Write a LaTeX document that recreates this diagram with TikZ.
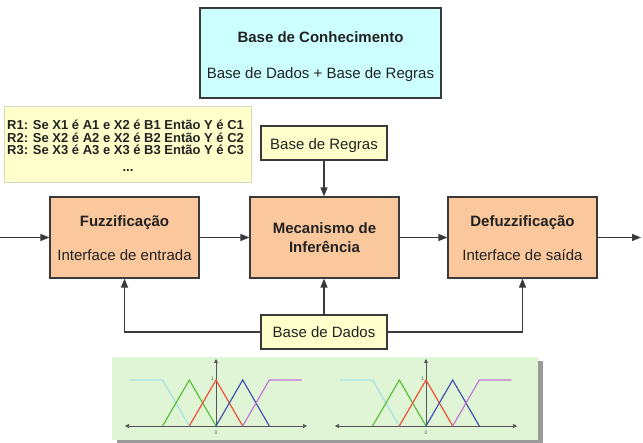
\documentclass[tikz,border=0pt]{standalone}
\usepackage{fontspec}
\setmainfont{Liberation Sans}
\usetikzlibrary{arrows.meta}
\definecolor{kbfill}{HTML}{CCFFFF}
\definecolor{yel}{HTML}{FFFFCC}
\definecolor{rulesline}{HTML}{D8D8C0}
\definecolor{org}{HTML}{FAC89C}
\definecolor{pnl}{HTML}{DFF5D6}
\definecolor{shd}{HTML}{9A9A9A}
\definecolor{ln}{HTML}{3A3A3A}
\definecolor{txt}{HTML}{222222}
\definecolor{axc}{HTML}{555555}
\definecolor{mfcyan}{HTML}{A8E2E6}
\definecolor{mfgreen}{HTML}{5CBF3A}
\definecolor{mfred}{HTML}{EE5035}
\definecolor{mfblue}{HTML}{4452B0}
\definecolor{mfmag}{HTML}{C474D4}
\begin{document}
\begin{tikzpicture}[x=1pt,y=-1pt,
  blk/.style={draw=ln, line width=1.2pt, inner sep=0pt, fill=org, minimum width=149pt, minimum height=81pt},
  smallbox/.style={draw=ln, line width=1.2pt, inner sep=0pt, fill=yel, minimum width=126pt, minimum height=34pt},
  lbl/.style={inner sep=0pt, text=txt, font=\fontsize{15}{18}\selectfont, anchor=base},
  rule/.style={inner sep=0pt, text=txt, font=\fontsize{13}{15}\selectfont\bfseries, anchor=base west},
  arr/.style={draw=ln, line width=1.2pt, -{Triangle[length=9pt,width=7pt]}},
  axis/.style={draw=axc, line width=0.6pt},
  tip/.style={Triangle[length=4pt,width=4pt]},
  mf/.style={line width=1.2pt, line join=miter},
  tick/.style={inner sep=0pt, text=axc, font=\fontsize{5}{6}\selectfont}
]
\useasboundingbox[fill=white] (0,0) rectangle (643,443);

% Knowledge base
\node[draw=ln, line width=1.2pt, fill=kbfill, inner sep=0pt, minimum width=241pt, minimum height=90pt] (kb) at (320.5,53) {};
\node[lbl] (kbT) at (320.5,42.4) {\bfseries Base de Conhecimento};
\node[lbl] (kbS) at (320.5,78.4) {Base de Dados + Base de Regras};

% Rules box
\node[draw=rulesline, line width=1pt, fill=yel, inner sep=0pt, minimum width=247pt, minimum height=76pt] (rules) at (127.5,145) {};
\node[rule] (r1) at (7,129.7) {R1: Se X1 é A1 e X2 é B1 Então Y é C1};
\node[rule] (r2) at (7,142.3) {R2: Se X2 é A2 e X2 é B2 Então Y é C2};
\node[rule] (r3) at (7,154.2) {R3: Se X3 é A3 e X3 é B3 Então Y é C3};
\node[rule, anchor=base] (rd) at (128,172) {...};

% Main blocks
\node[smallbox] (regras) at (324,143) {};
\node[lbl] (regrasT) at (324,149.4) {Base de Regras};

\node[blk] (fuzz) at (124.5,237.5) {};
\node[lbl] (fuzzA) at (124.5,226.4) {\bfseries Fuzzificação};
\node[lbl] (fuzzB) at (124.5,260.4) {Interface de entrada};

\node[blk] (mec) at (324.5,237.5) {};
\node[lbl] (mecA) at (324.5,234) {\bfseries Mecanismo de};
\node[lbl] (mecB) at (324.5,252.2) {\bfseries Inferência};

\node[blk] (defuzz) at (522.5,237.5) {};
\node[lbl] (defA) at (522.5,226.4) {\bfseries Defuzzificação};
\node[lbl] (defB) at (522.5,260.4) {Interface de saída};

\node[smallbox] (dados) at (324,332) {};
\node[lbl] (dadosT) at (324,337.4) {Base de Dados};

\coordinate (in) at (0,237.5);
\coordinate (out) at (641,237.5);

% Connectors
\draw[arr] (in) -- (fuzz.west);
\draw[arr] (fuzz.east) -- (mec.west);
\draw[arr] (mec.east) -- (defuzz.west);
\draw[arr] (defuzz.east) -- (out);
\draw[arr] (regras.south) -- (regras.south |- mec.north);
\draw[arr] (dados.north) -- (dados.north |- mec.south);
\draw[arr] (dados.west) -| (fuzz.south);
\draw[arr] (dados.east) -| (defuzz.south);

% Membership function panel
\fill[shd] (117,361) rectangle (543,443);
\fill[pnl] (112,357) rectangle (538,440);
\foreach \o in {0,210} {
  \begin{scope}[xshift=\o pt]
    \draw[axis, {Triangle[length=4pt,width=4pt]}-{Triangle[length=4pt,width=4pt]}] (125,426) -- (307,426);
    \draw[axis, -{Triangle[length=4pt,width=4pt]}] (216,426) -- (216,359);
    \node[tick] (one\o) at (212.5,379) {1};
    \node[tick] (zero\o) at (216,432.5) {0};
    \draw[mf, mfcyan] (130,380) -- (162.6,380) -- (189.3,426);
    \draw[mf, mfgreen] (162.6,426) -- (189.3,380) -- (216,426);
    \draw[mf, mfred] (189.3,426) -- (216,380) -- (242.7,426);
    \draw[mf, mfblue] (216,426) -- (242.7,380) -- (269.3,426);
    \draw[mf, mfmag] (242.7,426) -- (269.3,380) -- (301.7,380);
  \end{scope}
}
\end{tikzpicture}
\end{document}
